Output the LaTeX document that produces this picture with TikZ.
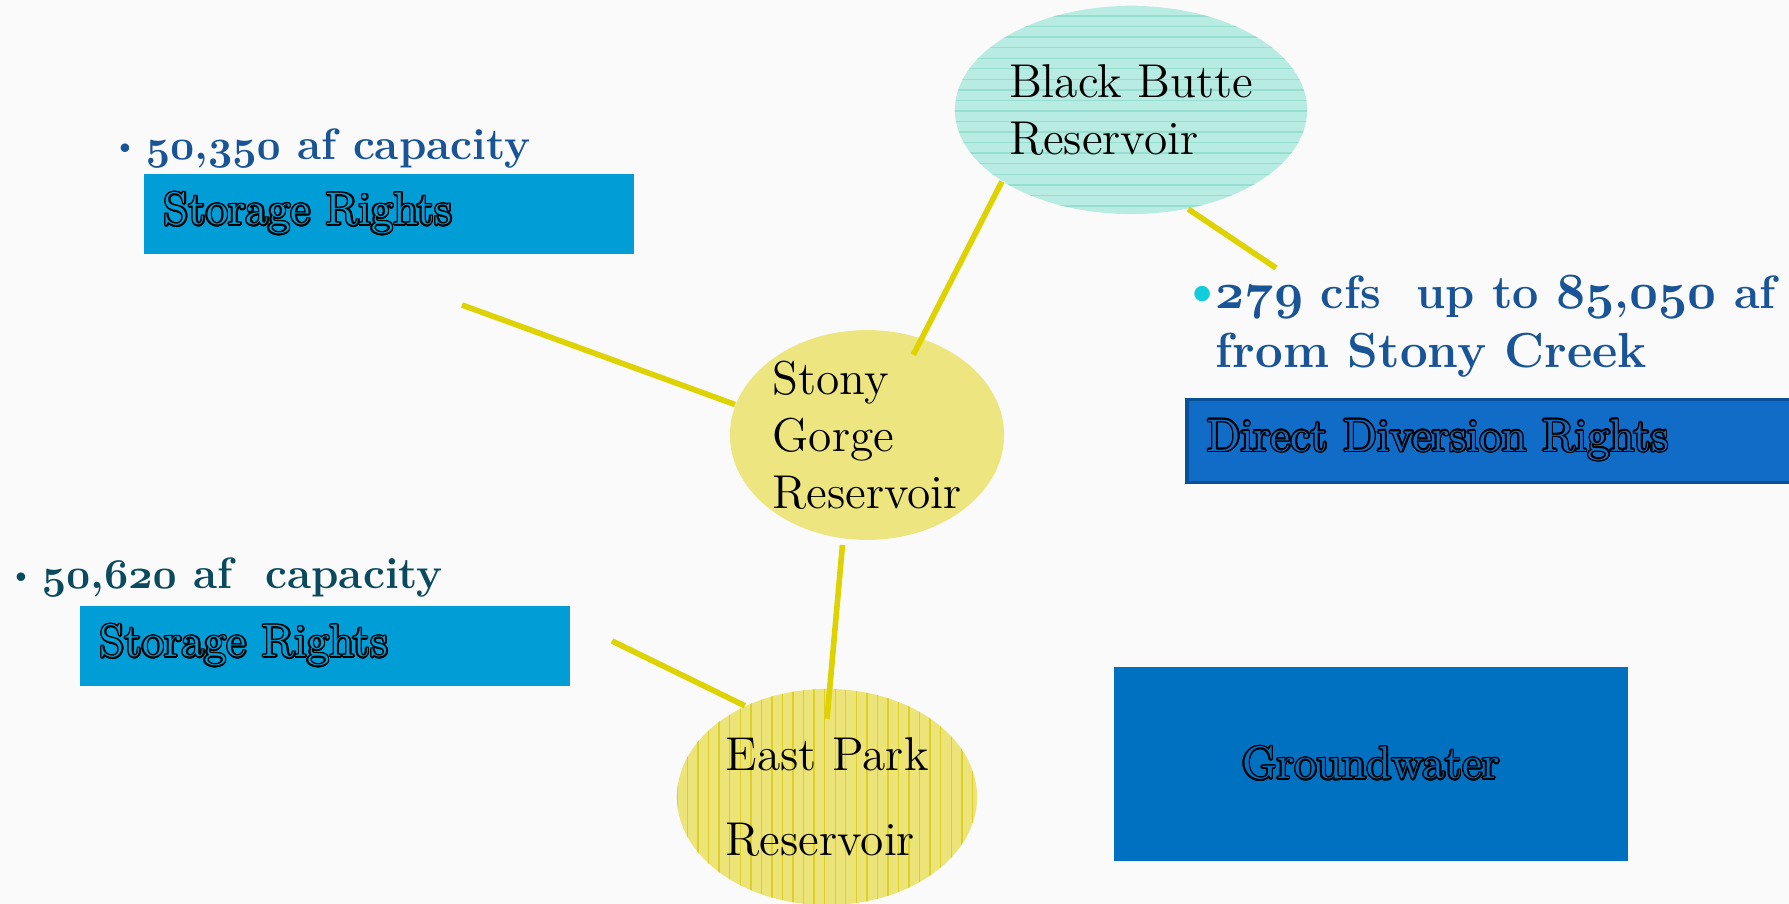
\documentclass[tikz,border=0pt]{standalone}
\usepackage{contour}
\usetikzlibrary{shapes.geometric, patterns, calc}

\definecolor{paper}{RGB}{250,250,250}
\definecolor{bbfill}{RGB}{184,236,226}
\definecolor{bbline}{RGB}{150,222,208}
\definecolor{sgfill}{RGB}{236,229,128}
\definecolor{epfill}{RGB}{236,228,120}
\definecolor{epline}{RGB}{220,208,40}
\definecolor{storeblue}{RGB}{0,157,214}
\definecolor{divblue}{RGB}{16,108,198}
\definecolor{divedge}{RGB}{10,80,150}
\definecolor{gwblue}{RGB}{0,112,192}
\definecolor{capblue}{RGB}{24,84,150}
\definecolor{capteal}{RGB}{10,74,94}
\definecolor{dotcyan}{RGB}{20,205,220}
\definecolor{linkyellow}{RGB}{222,211,0}

\contourlength{0.45pt}
\newcommand{\hollow}[1]{\contour{black}{#1}}
\newcommand{\osn}[1]{{\usefont{OML}{cmm}{b}{it}#1}}
\newcommand{\smalldot}{\raisebox{0.3ex}{\fontsize{8}{8}\selectfont\textbullet}}
\newcommand{\bigdot}{\makebox[7.7pt]{\raisebox{0.1ex}{\fontsize{15}{15}\selectfont\textbullet}}}

\begin{document}
\begin{tikzpicture}[
        x=0.01cm, y=-0.01cm,
        res/.style={
            ellipse, inner sep=0pt, align=left,
            font=\fontsize{13.5}{16.2}\selectfont
        },
        rights/.style={
            rectangle, inner xsep=0.2cm, inner ysep=0pt,
            minimum height=0.8cm, align=left,
            font=\fontsize{13}{15.6}\selectfont
        },
        note/.style={
            anchor=base west, inner sep=0pt, align=left,
            font=\bfseries\fontsize{12.5}{17}\selectfont
        },
        link/.style={draw=linkyellow, line width=1.6pt}
    ]
    \fill[paper] (0,0) rectangle (1789,904);
    \useasboundingbox (0,0) rectangle (1789,904);

    % reservoirs
    \node[res, fill=bbfill, postaction={pattern=horizontal lines, pattern color=bbline},
          minimum width=3.52cm, minimum height=2.08cm] (bb) at (1131,110) {Black Butte\\Reservoir};
    \node[res, fill=sgfill, minimum width=2.74cm, minimum height=2.08cm] (sg) at (867,435) {Stony\\Gorge\\Reservoir};
    \node[res, fill=epfill, postaction={pattern=vertical lines, pattern color=epline},
          minimum width=3cm, minimum height=2.16cm] (ep) at (827,797) {East Park\\[8pt]Reservoir};

    % rights
    \node[rights, fill=storeblue, text=storeblue, text width=4.5cm] (sr1) at (389,214) {\hollow{Storage Rights}};
    \node[rights, fill=storeblue, text=storeblue, text width=4.5cm] (sr2) at (325,646) {\hollow{Storage Rights}};
    \node[rights, fill=divblue, draw=divedge, line width=1pt, text=divblue,
          text width=5.68cm, minimum height=0.83cm] (dd) at (1491,441) {\hollow{Direct Diversion Rights}};
    \node[rights, fill=gwblue, text=gwblue, align=center,
          minimum width=5.13cm, minimum height=1.94cm] (gw) at (1371,764) {\hollow{Groundwater}};

    % amounts
    \node[note, text=capblue] (cap1) at (111,160) {\smalldot\,\osn{50},\osn{350} af capacity};
    \node[note, text=capteal] (cap2) at (7,589) {\smalldot\,\osn{50},\osn{620} af~~capacity};
    \node[note, text=capblue, font=\bfseries\fontsize{13.3}{17}\selectfont] (flow) at (1188,368)
        {{\color{dotcyan}\bigdot}\osn{279} cfs~~up to \osn{85},\osn{050} af\\
         \fontsize{14}{17}\selectfont\phantom{\bigdot}from Stony Creek};

    % links
    \coordinate (s1tail) at (462,305);
    \coordinate (s2tail) at (612,641);
    \coordinate (ddtip) at (1276,268);
    \draw[link] (s1tail) -- (sg.167);
    \draw[link] (bb.209) -- ($(sg.center)!0.83!(sg.60)$);
    \draw[link] (bb.300) -- (ddtip);
    \draw[link, shorten <=0.06cm] (sg.257) -- ($(ep.center)!0.72!(ep.north)$);
    \draw[link] (s2tail) -- (ep.132);
\end{tikzpicture}
\end{document}
